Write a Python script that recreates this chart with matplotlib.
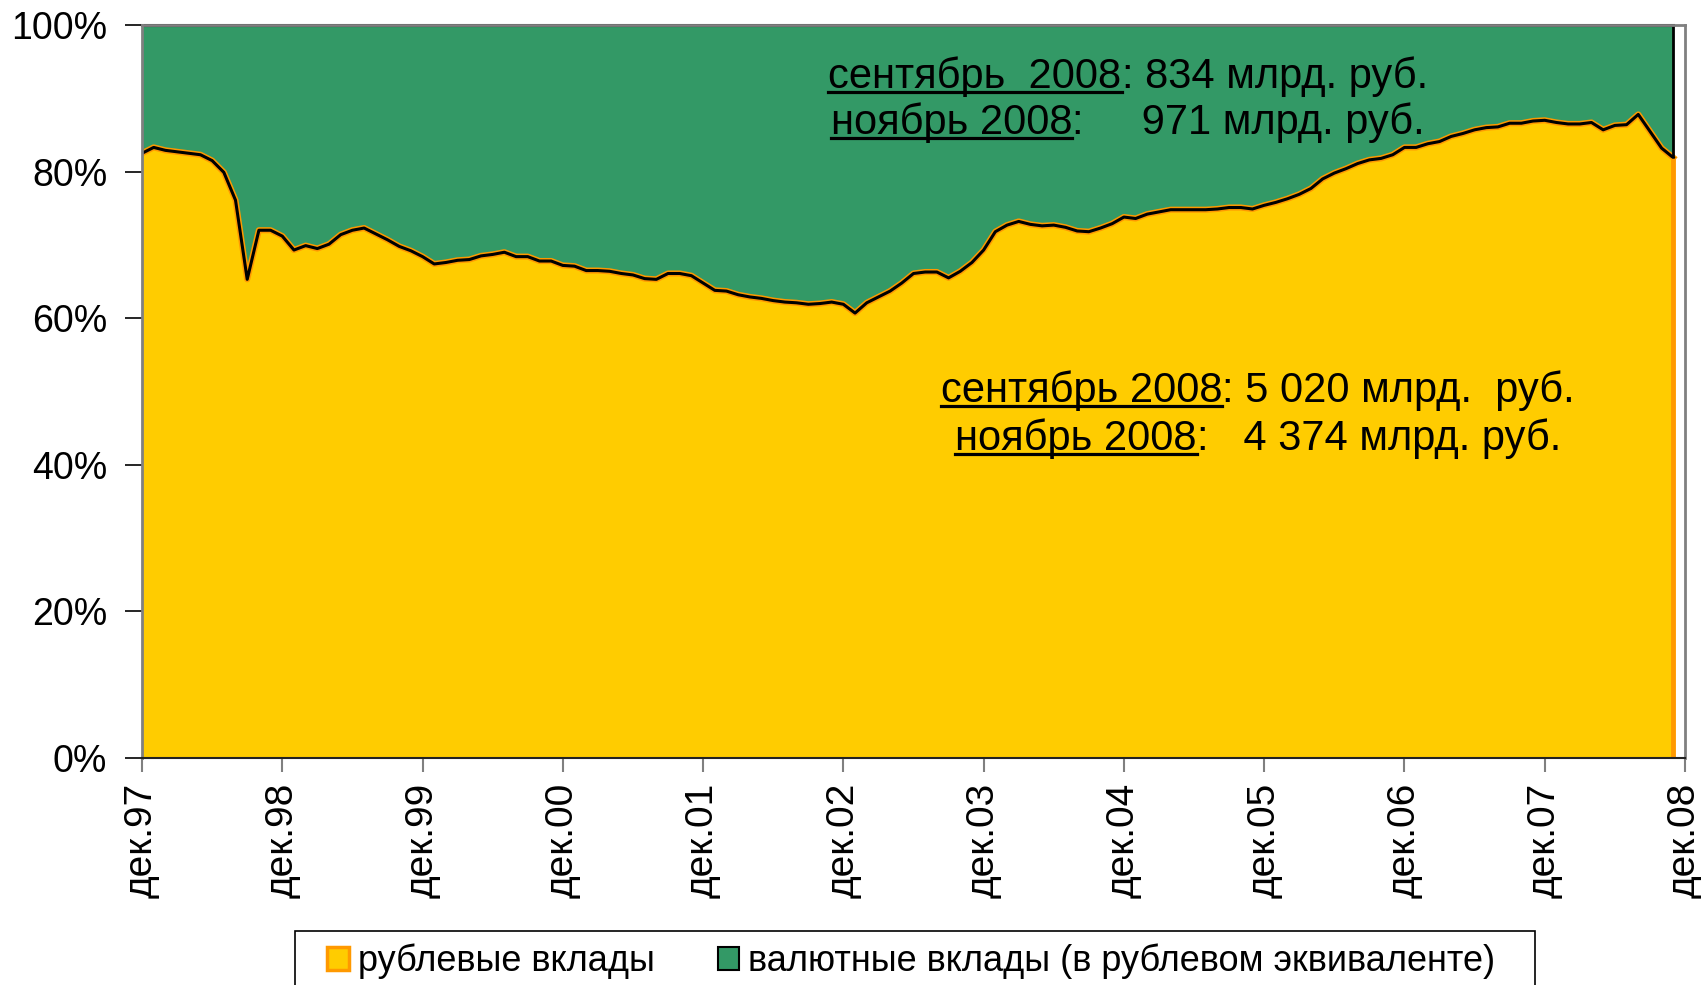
import matplotlib
matplotlib.use("Agg")
import matplotlib.pyplot as plt
import matplotlib.patches as mpatches
from matplotlib.lines import Line2D
import numpy as np

plt.rcParams["font.family"] = ["Liberation Sans", "DejaVu Sans"]

# доля рублевых вкладов, % (помесячно, дек.97 - ноя.08)
ruble_share = np.array([
    82.5, 83.3, 82.9, 82.7, 82.5, 82.3, 81.5, 79.9, 76.1, 65.3, 72.0, 72.0,
    71.2, 69.3, 69.9, 69.5, 70.1, 71.4, 72.0, 72.3, 71.5, 70.7, 69.8, 69.2,
    68.4, 67.4, 67.6, 67.9, 68.0, 68.5, 68.7, 69.0, 68.4, 68.4, 67.8, 67.8,
    67.2, 67.1, 66.5, 66.5, 66.4, 66.1, 65.9, 65.4, 65.3, 66.1, 66.1, 65.8,
    64.8, 63.8, 63.7, 63.2, 62.9, 62.7, 62.4, 62.2, 62.1, 61.9, 62.0, 62.2,
    61.9, 60.7, 62.1, 62.9, 63.7, 64.8, 66.1, 66.3, 66.3, 65.5, 66.4, 67.6,
    69.3, 71.8, 72.7, 73.2, 72.8, 72.6, 72.7, 72.4, 71.9, 71.8, 72.3, 72.9,
    73.8, 73.6, 74.2, 74.5, 74.8, 74.8, 74.8, 74.8, 74.9, 75.1, 75.1, 74.9,
    75.4, 75.8, 76.3, 76.9, 77.7, 79.0, 79.8, 80.4, 81.1, 81.6, 81.8, 82.3,
    83.3, 83.3, 83.8, 84.1, 84.8, 85.2, 85.7, 86.0, 86.1, 86.6, 86.6, 86.9,
    87.0, 86.7, 86.5, 86.5, 86.7, 85.7, 86.3, 86.4, 87.8, 85.5, 83.2, 81.9,
])
currency_share = 100.0 - ruble_share

tick_labels = ["дек.97", "дек.98", "дек.99", "дек.00", "дек.01", "дек.02",
               "дек.03", "дек.04", "дек.05", "дек.06", "дек.07", "дек.08"]
y_ticks = [0, 20, 40, 60, 80, 100]

legend_labels = ["рублевые вклады", "валютные вклады (в рублевом эквиваленте)"]

# подписи: список кусков (текст, подчеркнут ли)
upper_notes = [
    [("сентябрь  2008", True), (": 834 млрд. руб.", False)],
    [("ноябрь 2008", True), (":     971 млрд. руб.", False)],
]
lower_notes = [
    [("сентябрь 2008", True), (": 5 020 млрд.  руб.", False)],
    [("ноябрь 2008", True), (":   4 374 млрд. руб.", False)],
]

YELLOW = "#FFCC00"
ORANGE = "#FF9900"
GREEN = "#339966"
NOTE_SIZE = 30

W, H = 1701, 985
fig = plt.figure(figsize=(W / 100, H / 100), dpi=100)
ax = fig.add_axes([142 / W, 1 - 758 / H, (1685 - 142) / W, (758 - 25) / H])

months = np.arange(len(ruble_share))
total = ruble_share + currency_share

ax.fill_between(months, 0, ruble_share, color=YELLOW, lw=0)
ax.fill_between(months, ruble_share, total, color=GREEN, lw=0)
ax.plot(months, ruble_share, color=ORANGE, lw=4.4, solid_joinstyle="round")
ax.plot(months, ruble_share, color="black", lw=2.2, solid_joinstyle="round")
ax.plot(months, total, color="black", lw=2.2, clip_on=False)
ax.vlines(months[-1], 0, ruble_share[-1], color=ORANGE, lw=3.5)
ax.vlines(months[-1], ruble_share[-1], total[-1], color="black", lw=2)

ax.set_xlim(0, 12 * (len(tick_labels) - 1))
ax.set_ylim(0, 100)
ax.set_xticks(np.arange(len(tick_labels)) * 12)
ax.set_xticklabels(tick_labels, rotation=90, fontsize=28)
ax.set_yticks(y_ticks)
ax.set_yticklabels([f"{v}%" for v in y_ticks], fontsize=27)
ax.tick_params(axis="x", length=10, width=1.5, color="#808080", pad=8)
ax.tick_params(axis="y", length=12, width=1.2, color="black", pad=13)

for side in ("left", "right", "top"):
    ax.spines[side].set_color("#808080")
    ax.spines[side].set_linewidth(2)
ax.spines["bottom"].set_color("#222222")
ax.spines["bottom"].set_linewidth(1.5)

fig.canvas.draw()
renderer = fig.canvas.get_renderer()


def write_line(center_px, baseline_px, pieces):
    """Вывести строку из кусков, центрируя её и подчеркивая нужные куски."""
    y = 1 - baseline_px / H
    texts = [fig.text(0, y, s, fontsize=NOTE_SIZE, ha="left", va="baseline")
             for s, _ in pieces]
    widths = [t.get_window_extent(renderer).width for t in texts]
    x = center_px - sum(widths) / 2
    y_line = (H - baseline_px - 4) / H
    for text, width, (_, underline) in zip(texts, widths, pieces):
        text.set_x(x / W)
        if underline:
            fig.add_artist(Line2D([x / W, (x + width) / W], [y_line, y_line],
                                  transform=fig.transFigure, color="black",
                                  lw=2.3))
        x += width


write_line(1128, 88, upper_notes[0])
write_line(1128, 134, upper_notes[1])
write_line(1258, 402, lower_notes[0])
write_line(1258, 450, lower_notes[1])

handles = [
    mpatches.Patch(facecolor=YELLOW, edgecolor=ORANGE, lw=2.5),
    mpatches.Patch(facecolor=GREEN, edgecolor="black", lw=1.5),
]
fig.legend(handles, legend_labels, loc="center left",
           bbox_to_anchor=(327 / W, 1 - 961 / H), ncol=2,
           fontsize=26, frameon=False,
           handlelength=0.6, handleheight=0.6, handletextpad=0.25,
           columnspacing=1.75, borderpad=0, borderaxespad=0)
fig.add_artist(mpatches.Rectangle((295 / W, -0.02), (1535 - 295) / W,
                                  (H - 931) / H + 0.02,
                                  transform=fig.transFigure, fill=False,
                                  edgecolor="black", lw=1.2))

fig.savefig("out.png", dpi=100)
